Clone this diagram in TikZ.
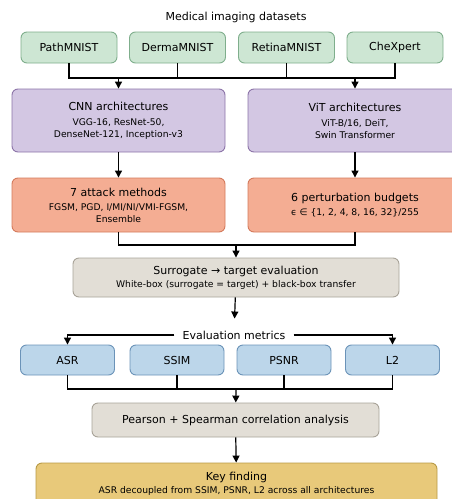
\documentclass[tikz,border=0pt]{standalone}
\usepackage{fontspec}
\setmainfont{DejaVu Sans}
\usetikzlibrary{arrows.meta}

\definecolor{dsfill}{HTML}{CDE6D3}
\definecolor{dsline}{HTML}{7FAE8C}
\definecolor{archfill}{HTML}{D3C7E3}
\definecolor{archline}{HTML}{8C74A8}
\definecolor{atkfill}{HTML}{F4AD93}
\definecolor{atkline}{HTML}{D47A5C}
\definecolor{evfill}{HTML}{E2DED6}
\definecolor{evline}{HTML}{A8A398}
\definecolor{mfill}{HTML}{BCD6EA}
\definecolor{mline}{HTML}{6B93B8}
\definecolor{keyfill}{HTML}{E8C97A}
\definecolor{keyline}{HTML}{B89A45}

\newcommand\hd{\fontsize{11}{13}\selectfont}
\newcommand\sm{\fontsize{9.2}{13.3}\selectfont}
\newcommand\smt{\fontsize{9.2}{10.5}\selectfont}

\tikzset{
  box/.style={draw, rounded corners=6pt, line width=0.9pt, align=center, inner sep=0pt},
  dataset/.style={box, fill=dsfill, draw=dsline, minimum width=96pt, minimum height=31pt, font=\hd},
  arch/.style={box, fill=archfill, draw=archline, minimum width=213pt, minimum height=63pt},
  attack/.style={box, fill=atkfill, draw=atkline, minimum width=213pt, minimum height=54pt},
  evalbox/.style={box, fill=evfill, draw=evline},
  metric/.style={box, fill=mfill, draw=mline, minimum width=94pt, minimum height=30pt, font=\hd},
  keybox/.style={box, fill=keyfill, draw=keyline, minimum width=401pt, minimum height=42pt},
  link/.style={line width=1.2pt},
  arrow/.style={link, -{Triangle[length=7pt,width=7pt]}},
}

\begin{document}
\begin{tikzpicture}[x=1pt, y={(0pt,-1pt)}]
  \useasboundingbox (0,0) rectangle (451,499);

  \node[font=\hd] (title) at (236,17) {Medical imaging datasets};
  \node[dataset] (path) at (69,47.5) {PathMNIST};
  \node[dataset] (derma) at (177.5,47.5) {DermaMNIST};
  \node[dataset] (retina) at (286.5,47.5) {RetinaMNIST};
  \node[dataset] (chex) at (395,47.5) {CheXpert};

  \node[arch] (cnn) at (118.5,120.5) {{\hd CNN architectures}\\[3pt]
    {\sm VGG-16, ResNet-50,}\\{\sm DenseNet-121, Inception-v3}};
  \node[arch, minimum width=214pt] (vit) at (355,120.5) {{\hd ViT architectures}\\[3pt]
    {\sm ViT-B/16, DeiT,}\\{\sm Swin Transformer}};

  \node[attack] (atk) at (118.5,205) {{\hd 7 attack methods}\\[2pt]
    {\smt FGSM, PGD, I/MI/NI/VMI-FGSM,}\\{\smt Ensemble}};
  \node[attack, minimum width=214pt] (budget) at (355,205) {{\hd 6 perturbation budgets}\\[2pt]
    {\sm ϵ ∈ \{1, 2, 4, 8, 16, 32\}/255}};

  \node[evalbox, minimum width=326pt, minimum height=39pt] (surr) at (236,277.5)
    {{\hd Surrogate → target evaluation}\\[1pt]{\sm White-box (surrogate = target) + black-box transfer}};

  \node[font=\hd, inner xsep=8pt, inner ysep=3pt] (metrics) at (234,335) {Evaluation metrics};
  \node[metric] (asr) at (67.5,360) {ASR};
  \node[metric] (ssim) at (177,360) {SSIM};
  \node[metric] (psnr) at (284,360) {PSNR};
  \node[metric] (ltwo) at (392.5,360) {L2};

  \node[evalbox, font=\hd, minimum width=287pt, minimum height=34pt] (pearson) at (235.5,420)
    {Pearson + Spearman correlation analysis};
  \node[keybox] (key) at (236.5,484) {{\hd Key finding}\\[1pt]
    {\sm ASR decoupled from SSIM, PSNR, L2 across all architectures}};

  \coordinate (busA) at (236,78);
  \coordinate (busB) at (236,245);
  \coordinate (busC) at (236,389);

  \draw[link] (path.south) |- (busA) -| (chex.south);
  \draw[link] (derma.south) -- (derma.south |- busA);
  \draw[link] (retina.south) -- (retina.south |- busA);
  \draw[arrow] (cnn.north |- busA) -- (cnn);
  \draw[arrow] (vit.north |- busA) -- (vit);

  \draw[arrow] (cnn) -- (atk);
  \draw[arrow] (vit) -- (budget);
  \draw[link] (atk.south) |- (busB) -| (budget.south);
  \draw[arrow] (busB) -- (surr);

  \draw[arrow, shorten >=9pt] (surr) -- (metrics);
  \draw[arrow] (metrics.west) -| (asr);
  \draw[arrow] (metrics.east) -| (ltwo);

  \draw[link] (asr.south) |- (busC) -| (ltwo.south);
  \draw[link] (ssim.south) -- (ssim.south |- busC);
  \draw[link] (psnr.south) -- (psnr.south |- busC);
  \draw[arrow] (busC) -- (pearson);
  \draw[arrow] (pearson) -- (key);
\end{tikzpicture}
\end{document}
